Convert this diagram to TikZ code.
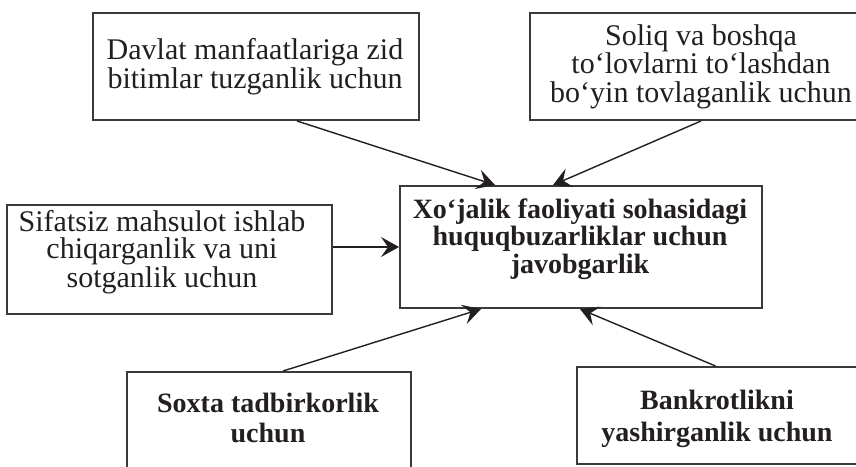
\documentclass[tikz,border=0pt]{standalone}
\usepackage{fontspec}
\setmainfont{Liberation Serif}
\usetikzlibrary{arrows.meta,calc}
\definecolor{ink}{HTML}{231F20}
\definecolor{frame}{HTML}{3A3A3A}
\begin{document}
\begin{tikzpicture}[x=0.5pt,y=-0.5pt,
  box/.style={draw=frame,line width=1pt,fill=none,inner sep=0pt},
  txt/.style={inner sep=0pt,align=center,text=ink},
  reg/.style={font=\fontsize{15pt}{#1}\selectfont},
  bld/.style={font=\fontsize{14pt}{#1}\selectfont\bfseries},
  conn/.style={draw=ink,line width=0.7pt,-{Stealth[length=9pt,width=10pt,inset=3.5pt]}}]
\useasboundingbox (0,0) rectangle (856,466);
\clip (0,0) rectangle (856,466);
% boxes
\node[box,minimum width=163pt,minimum height=53.5pt] (b1) at (256,66.5) {};
\node[box,minimum width=173pt,minimum height=53.5pt] (b2) at (703,66.5) {};
\node[box,minimum width=162.5pt,minimum height=54.5pt] (b3) at (169.5,259.5) {};
\node[box,minimum width=181pt,minimum height=61pt] (c) at (581,247) {};
\node[box,minimum width=142pt,minimum height=59pt] (b4) at (269,431) {};
\node[box,minimum width=141.5pt,minimum height=48.5pt] (b5) at (718.5,415.5) {};
% texts
\node[txt,reg=14.5pt] (t1) at (255,66.5) {Davlat manfaatlariga zid\\bitimlar tuzganlik uchun};
\node[txt,reg=14.25pt] (t2) at (701,66.5) {Soliq va boshqa\\to‘lovlarni to‘lashdan\\bo‘yin tovlaganlik uchun};
\node[txt,reg=13.5pt] (t3) at (162,252) {Sifatsiz mahsulot ishlab\\chiqarganlik va uni\\sotganlik uchun};
\node[txt,bld=13.75pt] (tc) at (580,239) {Xo‘jalik faoliyati sohasidagi\\huquqbuzarliklar uchun\\javobgarlik};
\node[txt,bld=15pt] (t4) at (268,418) {Soxta tadbirkorlik\\uchun};
\node[txt,bld=16pt] (t5) at (717,419) {Bankrotlikni\\yashirganlik uchun};
% connectors
\draw[conn] ($(b1.south)+(41,0)$) -- ($(c.north)+(-86,0)$);
\draw[conn] ($(b2.south)+(-2,0)$) -- ($(c.north)+(-28,0)$);
\draw[conn] (b3.east |- c.west) -- (c.west);
\draw[conn] ($(b4.north)+(14,0)$) -- ($(c.south)+(-100,0)$);
\draw[conn] ($(b5.north)+(-3,0)$) -- ($(c.south)+(-1,0)$);
\end{tikzpicture}
\end{document}
